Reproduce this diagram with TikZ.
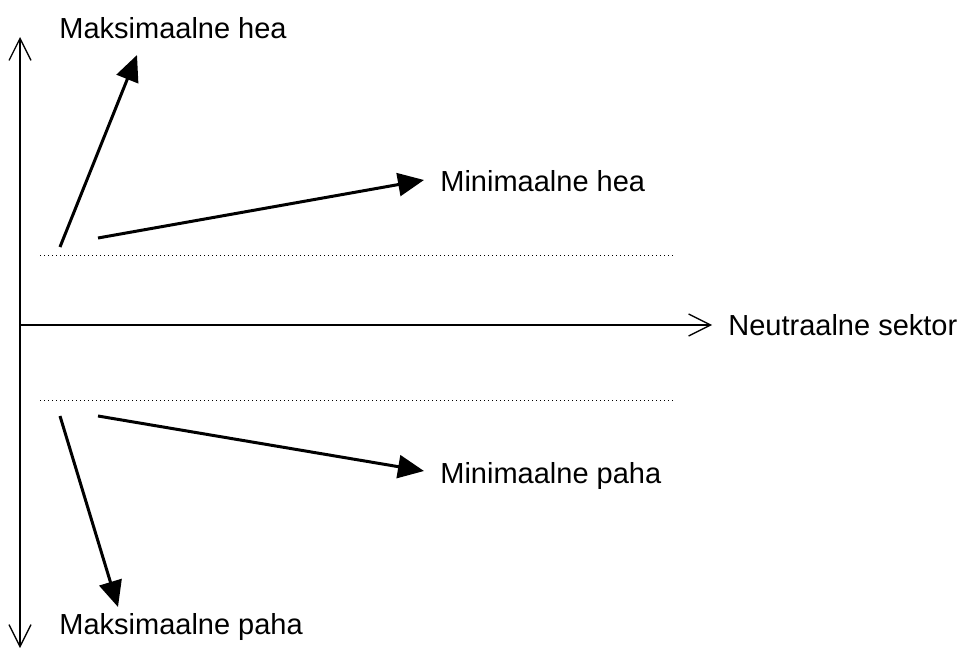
\documentclass[tikz,border=0pt]{standalone}
\usepackage{fontspec}
\setmainfont{Liberation Sans}
\usetikzlibrary{arrows.meta}

\begin{document}
\begin{tikzpicture}[x=0.5pt,y=-0.5pt]
	\tikzset{axisline/.style={line width=0.65pt,-{Straight Barb[length=11pt,width=11pt]}},
		sectorarrow/.style={line width=1.5pt,-{Triangle[length=13pt,width=11.5pt]}},
		bandline/.style={line width=0.5pt,dash pattern=on 0.5pt off 1.5pt},
		sectorlabel/.style={anchor=west,inner sep=0pt,font=\fontsize{14.5pt}{16pt}\selectfont}}
	\useasboundingbox (0,0) rectangle (960,648);

	\draw (20,325) coordinate (O) {};
	\draw (20,37) coordinate (top) {};
	\draw (20,648) coordinate (bottom) {};
	\draw (712,325) coordinate (right) {};

	\draw (O) -- (top) [axisline];
	\draw (O) -- (bottom) [axisline];
	\draw (O) -- (right) [axisline];

	\draw (40,255) coordinate (upper1) -- (673,255) coordinate (upper2) [bandline];
	\draw (40,400) coordinate (lower1) -- (673,400) coordinate (lower2) [bandline];

	\draw (728,325) node [sectorlabel] (neutral) {Neutraalne sektor};
	\draw (59,28) node [sectorlabel] (maxgood) {Maksimaalne hea};
	\draw (440,181) node [sectorlabel] (mingood) {Minimaalne hea};
	\draw (440,476) node [sectorlabel] (minbad) {Minimaalne paha};
	\draw (59,627) node [sectorlabel] (maxbad) {Maksimaalne paha};

	\draw (60,247) coordinate (maxgoodstart) -- (137,55) coordinate (maxgoodtip) [sectorarrow];
	\draw (98,238) coordinate (mingoodstart) -- (424,180) coordinate (mingoodtip) [sectorarrow];
	\draw (98,416) coordinate (minbadstart) -- (424,471) coordinate (minbadtip) [sectorarrow];
	\draw (60,416) coordinate (maxbadstart) -- (118,607) coordinate (maxbadtip) [sectorarrow];
\end{tikzpicture}
\end{document}
